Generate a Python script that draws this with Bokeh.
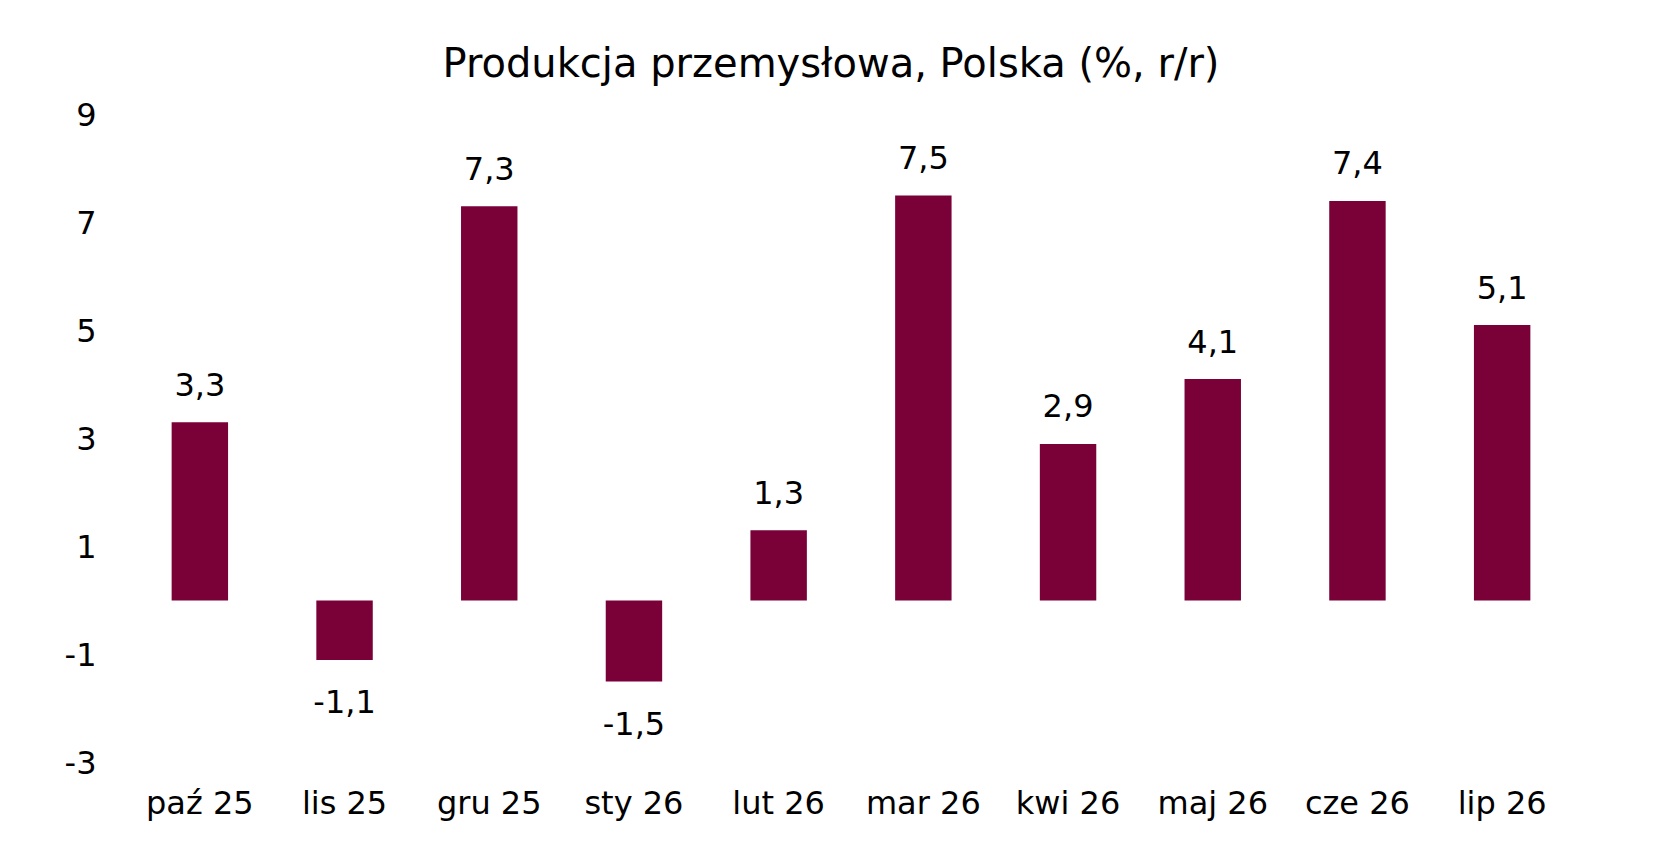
from bokeh.plotting import figure
from bokeh.models import ColumnDataSource, Range1d, FactorRange, FixedTicker, LabelSet
from bokeh.core.properties import value
from bokeh.embed import file_html
from bokeh.resources import INLINE

categories = ["paź 25", "lis 25", "gru 25", "sty 26", "lut 26", "mar 26", "kwi 26", "maj 26", "cze 26", "lip 26"]
values = [3.3, -1.1, 7.3, -1.5, 1.3, 7.5, 2.9, 4.1, 7.4, 5.1]
labels = ["3,3", "-1,1", "7,3", "-1,5", "1,3", "7,5", "2,9", "4,1", "7,4", "5,1"]
y_ticks = [-3, -1, 1, 3, 5, 7, 9]

FONT = "DejaVu Sans"
BAR = "#7A0038"

pos_idx = [i for i, v in enumerate(values) if v >= 0]
neg_idx = [i for i, v in enumerate(values) if v < 0]
src_all = ColumnDataSource(dict(cat=categories, val=values, lab=labels))
src_pos = ColumnDataSource(dict(cat=[categories[i] for i in pos_idx], val=[values[i] for i in pos_idx],
                                lab=[labels[i] for i in pos_idx]))
src_neg = ColumnDataSource(dict(cat=[categories[i] for i in neg_idx], val=[values[i] for i in neg_idx],
                                lab=[labels[i] for i in neg_idx]))

p = figure(x_range=FactorRange(*categories, range_padding=0), y_range=Range1d(-3, 9),
           width=1640, height=835, output_backend="svg", toolbar_location=None,
           min_border_left=127, min_border_right=66, min_border_top=114, min_border_bottom=73)

p.title.text = "Produkcja przemysłowa, Polska (%, r/r)"
p.title.align = "left"
p.title.text_font = FONT
p.title.text_font_size = "40px"
p.title.text_font_style = "normal"
p.title.text_color = "#000000"
p.title.offset = 315
p.title.standoff = 58

p.vbar(x="cat", top="val", bottom=0, width=0.39, source=src_all, fill_color=BAR, line_color=None)

for src, off in ((src_pos, 38), (src_neg, -42)):
    p.add_layout(LabelSet(x="cat", y="val", text="lab", source=src, text_align="center",
                          text_baseline="middle", y_offset=off, text_font=value(FONT),
                          text_font_size="32px", text_color="#000000"))

p.outline_line_color = None
p.background_fill_color = "white"
p.border_fill_color = "white"
p.xgrid.grid_line_color = None
p.ygrid.grid_line_color = None

p.yaxis.ticker = FixedTicker(ticks=y_ticks)
for ax in (p.xaxis[0], p.yaxis[0]):
    ax.axis_line_color = None
    ax.major_tick_line_color = None
    ax.minor_tick_line_color = None
    ax.major_tick_out = 0
    ax.major_tick_in = 0
    ax.minor_tick_out = 0
    ax.major_label_text_font = FONT
    ax.major_label_text_font_size = "32px"
    ax.major_label_text_color = "#000000"
p.yaxis.major_label_standoff = 31
p.xaxis.major_label_standoff = 21
p.yaxis.major_label_overrides = {t: str(t) for t in y_ticks}

open("out.html", "w").write(file_html(p, INLINE))
